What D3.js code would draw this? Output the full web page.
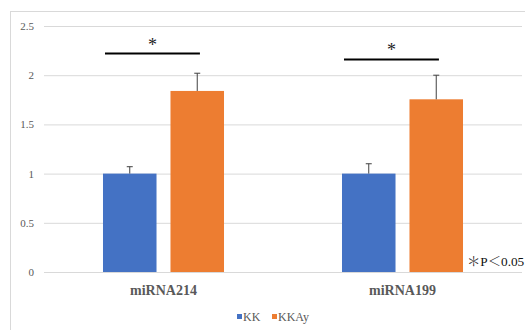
<!DOCTYPE html>
<html><head><meta charset="utf-8">
<script src="https://cdn.jsdelivr.net/npm/d3@7"></script>
<style>body{margin:0;background:#fff;}</style>
</head><body>
<script>
const categories = ["miRNA214", "miRNA199"];
const seriesNames = ["KK", "KKAy"];
const kkValues = [1.0, 1.0];
const kkErrors = [0.07, 0.10];
const kkayValues = [1.84, 1.755];
const kkayErrors = [0.18, 0.245];
const yTicks = [0, 0.5, 1, 1.5, 2, 2.5];
const sigLevels = [2.22, 2.16];
const colors = ["#4472c4", "#ed7d31"];

const W = 525, H = 330;
const FONT = "'Liberation Serif', 'Times New Roman', serif";
const CJK = "'Noto Serif CJK JP', 'Noto Sans CJK JP', serif";
const svg = d3.select("body").append("svg").attr("width", W).attr("height", H);

// chart frame
svg.append("rect").attr("x", 10.5).attr("y", 11.5).attr("width", 530).attr("height", 340)
  .attr("fill", "none").attr("stroke", "#d9d9d9");

const plotL = 44, plotR = 522;
const y = d3.scaleLinear().domain([0, 2.5]).range([272, 26]);
const x0 = d3.scaleBand().domain(categories).range([plotL, plotR]).paddingInner(0).paddingOuter(0);
const x1 = d3.scaleBand().domain(seriesNames).range([0, x0.bandwidth()]).paddingInner(0.207).paddingOuter(0.874);

// gridlines
const yAxis = d3.axisLeft(y).tickValues(yTicks).tickSize(-(plotR - plotL)).tickFormat(d3.format("~g"));
const gAx = svg.append("g").attr("transform", `translate(${plotL},0)`).call(yAxis);
gAx.select(".domain").remove();
gAx.selectAll(".tick line").attr("stroke", "#d9d9d9").attr("stroke-width", 1);
gAx.selectAll(".tick text").attr("x", -10).attr("fill", "#595959").attr("font-size", 11)
  .style("font-family", FONT);

const data = categories.map((c, i) => ({
  cat: c,
  bars: [
    {s: "KK", v: kkValues[i], e: kkErrors[i], c: colors[0]},
    {s: "KKAy", v: kkayValues[i], e: kkayErrors[i], c: colors[1]}
  ]
}));

const groups = svg.selectAll("g.cat").data(data).enter().append("g")
  .attr("class", "cat").attr("transform", d => `translate(${x0(d.cat)},0)`);

groups.selectAll("rect").data(d => d.bars).enter().append("rect")
  .attr("x", d => x1(d.s)).attr("width", x1.bandwidth())
  .attr("y", d => y(d.v)).attr("height", d => y(0) - y(d.v))
  .attr("fill", d => d.c);

// error bars
groups.selectAll("g.err").data(d => d.bars).enter().append("g").attr("class", "err")
  .each(function(d) {
    const cx = x1(d.s) + x1.bandwidth() / 2;
    const g = d3.select(this);
    g.append("line").attr("x1", cx).attr("x2", cx).attr("y1", y(d.v)).attr("y2", y(d.v + d.e))
      .attr("stroke", "#404040").attr("stroke-width", 1);
    g.append("line").attr("x1", cx - 3).attr("x2", cx + 3).attr("y1", y(d.v + d.e)).attr("y2", y(d.v + d.e))
      .attr("stroke", "#404040").attr("stroke-width", 1);
  });

// significance lines
groups.each(function(d, i) {
  const g = d3.select(this);
  const xa = x1("KK") + 2, xb = x1("KKAy") + x1.bandwidth() * 0.55;
  const ly = y(sigLevels[i]);
  g.append("line").attr("x1", xa).attr("x2", xb).attr("y1", ly).attr("y2", ly)
    .attr("stroke", "#000").attr("stroke-width", 2);
  g.append("text").attr("x", (xa + xb) / 2).attr("y", ly - 3).attr("text-anchor", "middle")
    .style("font-family", FONT).attr("font-size", 18).attr("fill", "#222").text("*");
});

// category labels
svg.selectAll("text.catlab").data(categories).enter().append("text").attr("class", "catlab")
  .attr("x", d => x0(d) + x0.bandwidth() / 2).attr("y", 295).attr("text-anchor", "middle")
  .style("font-family", FONT).attr("font-weight", "bold").attr("font-size", 14).attr("fill", "#595959").text(d => d);

// P annotation
const pt = svg.append("text").attr("x", 467).attr("y", 266).attr("font-size", 13.3).attr("fill", "#111").style("font-family", FONT);
pt.append("tspan").style("font-family", CJK).text("＊");
pt.append("tspan").text("P");
pt.append("tspan").style("font-family", CJK).text("＜");
pt.append("tspan").text("0.05");

// legend
const leg = svg.append("g").attr("transform", "translate(237,321)");
const legX = [0, 35];
seriesNames.forEach((s, i) => {
  leg.append("rect").attr("x", legX[i]).attr("y", -7).attr("width", 5).attr("height", 5).attr("fill", colors[i]);
  leg.append("text").attr("x", legX[i] + 6).attr("y", 0).style("font-family", FONT).attr("font-size", 12).attr("fill", "#595959").text(s);
});
</script>
</body></html>
